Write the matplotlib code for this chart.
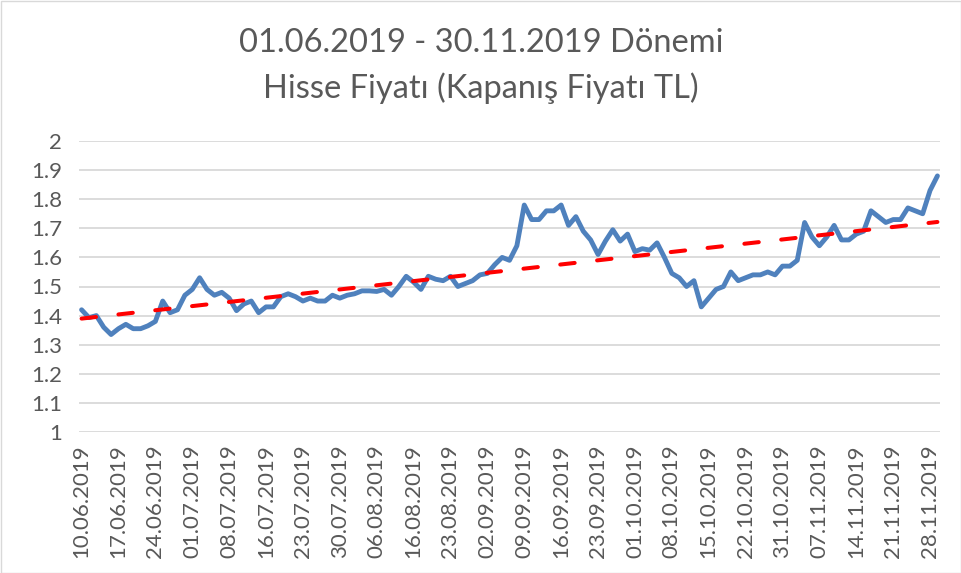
import numpy as np
import matplotlib
matplotlib.use("Agg")
import matplotlib.pyplot as plt
from matplotlib.patches import Rectangle

# Closing prices (TL), one value per trading day, 10.06.2019 - 29.11.2019
prices = [
    1.42, 1.393, 1.40, 1.36, 1.335, 1.355, 1.37, 1.355, 1.355, 1.365,
    1.38, 1.45, 1.41, 1.42, 1.47, 1.49, 1.53, 1.49, 1.47, 1.48,
    1.46, 1.417, 1.44, 1.45, 1.41, 1.43, 1.43, 1.465, 1.475, 1.465,
    1.45, 1.46, 1.45, 1.45, 1.47, 1.46, 1.47, 1.475, 1.485, 1.485,
    1.483, 1.49, 1.47, 1.50, 1.535, 1.515, 1.49, 1.535, 1.525, 1.52,
    1.535, 1.50, 1.51, 1.52, 1.54, 1.545, 1.575, 1.60, 1.59, 1.64,
    1.78, 1.73, 1.73, 1.76, 1.76, 1.78, 1.71, 1.74, 1.69, 1.66,
    1.61, 1.656, 1.695, 1.656, 1.68, 1.62, 1.63, 1.625, 1.65, 1.60,
    1.545, 1.53, 1.50, 1.52, 1.43, 1.46, 1.49, 1.50, 1.55, 1.52,
    1.53, 1.54, 1.54, 1.55, 1.54, 1.57, 1.57, 1.59, 1.72, 1.67,
    1.64, 1.67, 1.71, 1.66, 1.66, 1.68, 1.69, 1.76, 1.74, 1.72,
    1.73, 1.73, 1.77, 1.76, 1.75, 1.83, 1.88,
]

tick_labels = [
    "10.06.2019", "17.06.2019", "24.06.2019", "01.07.2019", "08.07.2019",
    "16.07.2019", "23.07.2019", "30.07.2019", "06.08.2019", "16.08.2019",
    "23.08.2019", "02.09.2019", "09.09.2019", "16.09.2019", "23.09.2019",
    "01.10.2019", "08.10.2019", "15.10.2019", "22.10.2019", "31.10.2019",
    "07.11.2019", "14.11.2019", "21.11.2019", "28.11.2019",
]
tick_step = 5

y_ticks = [1.0, 1.1, 1.2, 1.3, 1.4, 1.5, 1.6, 1.7, 1.8, 1.9, 2.0]
y_tick_labels = ["1", "1.1", "1.2", "1.3", "1.4", "1.5", "1.6", "1.7", "1.8", "1.9", "2"]

title_text = "01.06.2019 - 30.11.2019 Dönemi\nHisse Fiyatı (Kapanış Fiyatı TL)"

plt.rcParams['font.family'] = ['Lato', 'DejaVu Sans']

W, H = 962, 573
fig = plt.figure(figsize=(W / 100, H / 100), dpi=100)
fig.patch.set_facecolor("white")

# axes placement in pixels
left_px, right_px, top_px, bottom_px = 79, 940, 141, 432
ax = fig.add_axes([left_px / W, 1 - bottom_px / H,
                   (right_px - left_px) / W, (bottom_px - top_px) / H])

x = np.arange(len(prices))
ax.plot(x, prices, color="#4F81BD", lw=3.5, solid_joinstyle="round",
        solid_capstyle="round", zorder=3)

# linear trendline
coef = np.polyfit(x, prices, 1)
trend = np.polyval(coef, x)
ax.plot(x, trend, color="#FF0000", lw=2.9, dashes=(3.6, 5.6),
        dash_capstyle="round", zorder=4)

ax.set_xlim(-0.35, len(prices) - 1 + 0.35)
ax.set_ylim(1.0, 2.0)
ax.set_yticks(y_ticks)
ax.set_yticklabels(y_tick_labels)
ax.set_xticks(np.arange(len(tick_labels)) * tick_step)
ax.set_xticklabels(tick_labels, rotation=90)

ax.grid(axis="y", color="#D9D9D9", lw=1.3, zorder=0)
ax.set_axisbelow(True)
for s in ax.spines.values():
    s.set_visible(False)
ax.tick_params(axis="both", length=0, colors="#595959", labelsize=16)
ax.tick_params(axis="y", pad=12)
ax.tick_params(axis="x", pad=9)

fig.text(0.5, 1 - 66 / H, title_text, ha="center", va="center",
         fontsize=23.5, color="#595959", linespacing=1.55)

fig.patches.append(Rectangle((0.5 / W, 0.5 / H), 1 - 1.5 / W, 1 - 1.5 / H,
                             transform=fig.transFigure, fill=False,
                             edgecolor="#D9D9D9", lw=1))

fig.savefig("out.png", dpi=100, facecolor="white")
